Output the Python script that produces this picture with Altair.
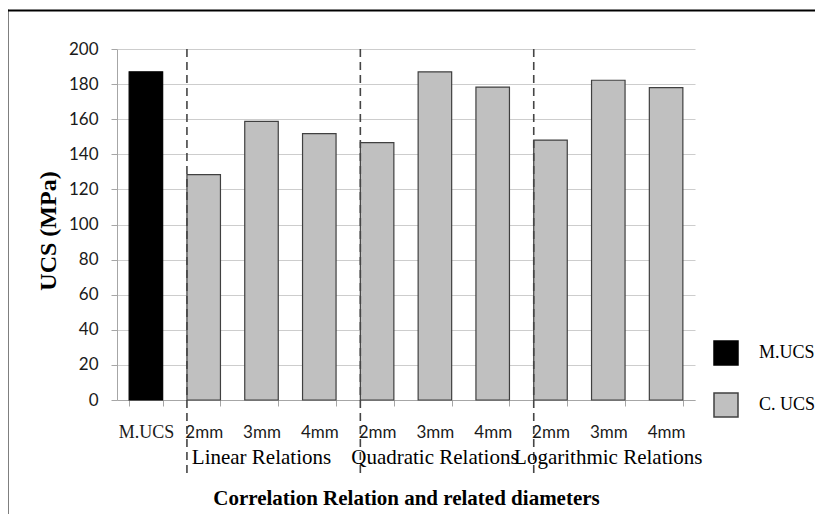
import altair as alt
import pandas as pd

# ---- data ----
keys = ["M.UCS", "Linear|2mm", "Linear|3mm", "Linear|4mm",
        "Quadratic|2mm", "Quadratic|3mm", "Quadratic|4mm",
        "Logarithmic|2mm", "Logarithmic|3mm", "Logarithmic|4mm"]
ucs_values = [187, 128.4, 158.8, 151.8, 146.6, 187, 178.3, 148.1, 182.2, 178]
series = ["M.UCS"] + ["C. UCS"] * 9
legend_names = ["M.UCS", "C. UCS"]
group_names = ["Linear Relations", "Quadratic Relations", "Logarithmic Relations"]
group_centers = ["Linear|3mm", "Quadratic|3mm", "Logarithmic|3mm"]
group_starts = ["Linear|2mm", "Quadratic|2mm", "Logarithmic|2mm"]
y_ticks = [0, 20, 40, 60, 80, 100, 120, 140, 160, 180, 200]

bars_df = pd.DataFrame({"key": keys, "ucs": ucs_values, "series": series})
groups_df = pd.DataFrame({"key": group_centers, "name": group_names})
starts_df = pd.DataFrame({"key": group_starts})
frame_df = pd.DataFrame({"a": [0]})

W, H = 578, 351

x_axis = alt.Axis(
    title="Correlation Relation and related diameters",
    titleFont="Liberation Serif", titleFontSize=21, titleFontWeight="bold",
    titleColor="black", titleBaseline="alphabetic", titleY=104, titleX=W / 2,
    titleAlign="center",
    labelExpr="isString(datum.value) ? (indexof(datum.value, '|') >= 0 ? split(datum.value, '|')[1] : datum.value) : ''",
    labelAngle=0,
    labelFont={"condition": {"test": "datum.value == 'M.UCS'", "value": "Liberation Serif"}, "value": "Lato"},
    labelFontSize={"condition": {"test": "datum.value == 'M.UCS'", "value": 18}, "value": 17},
    labelColor="#1a1a1a", labelBaseline="alphabetic", labelPadding=31,
    tickBand="extent", tickSize=6, tickColor="#a6a6a6",
    domainColor="#a6a6a6", grid=False,
)

x_scale = alt.Scale(domain=keys, paddingInner=0.42, paddingOuter=0.21)


def xenc(**kw):
    return alt.X("key:N", sort=keys, scale=x_scale, axis=x_axis, **kw)


y_enc = alt.Y(
    "ucs:Q",
    scale=alt.Scale(domain=[0, 200], nice=False),
    axis=alt.Axis(
        values=y_ticks, title="UCS (MPa)",
        titleFont="Liberation Serif", titleFontWeight="bold", titleFontSize=24,
        titleColor="black", titleAngle=270, titleX=-62, titleY=H / 2 + 6,
        titleAlign="center", titleBaseline="alphabetic",
        labelFont="Lato", labelFontSize=17, labelColor="#1a1a1a", labelPadding=13,
        tickSize=6, tickColor="#a6a6a6", domainColor="#a6a6a6",
        gridColor="#cdcdcd", gridWidth=1,
    ),
)

bars = alt.Chart(bars_df).mark_bar(strokeWidth=1.2).encode(
    x=xenc(),
    y=y_enc,
    fill=alt.Fill(
        "series:N",
        scale=alt.Scale(domain=legend_names, range=["#000000", "#c0c0c0"]),
        legend=alt.Legend(
            title=None, orient="none", legendX=596, legendY=291,
            symbolType="square", symbolSize=576, symbolStrokeColor="#333333",
            symbolStrokeWidth=1.5, labelFont="Liberation Serif", labelFontSize=18,
            labelColor="black", labelOffset=20, rowPadding=22, padding=0,
        ),
    ),
    stroke=alt.Stroke(
        "series:N",
        scale=alt.Scale(domain=legend_names, range=["#000000", "#404040"]),
        legend=None,
    ),
)

rules = alt.Chart(starts_df).mark_rule(
    strokeDash=[8, 5], color="#454545", strokeWidth=1.6
).encode(
    x=xenc(bandPosition=0),
    y=alt.value(0),
    y2=alt.value(425),
)

group_text = alt.Chart(groups_df).mark_text(
    font="Liberation Serif", fontSize=21, baseline="alphabetic", align="center",
    color="black",
).encode(
    x=xenc(),
    y=alt.value(415),
    text="name:N",
)

# outer frame: only the left and top edges are visible in the reference
frame_top = alt.Chart(frame_df).mark_rule(color="black", strokeWidth=2).encode(
    x=alt.value(-109.5), x2=alt.value(702), y=alt.value(-38.5),
)
frame_left = alt.Chart(frame_df).mark_rule(color="black", strokeWidth=2).encode(
    x=alt.value(-109.5), y=alt.value(-39.5), y2=alt.value(470),
)

chart = alt.layer(bars, rules, group_text, frame_top, frame_left).properties(
    width=W, height=H,
    autosize=alt.AutoSizeParams(type="none"),
    padding={"left": 109, "top": 41, "right": 120, "bottom": 114},
).configure_view(strokeWidth=0)

chart.save("out.html", embed_options={"renderer": "svg", "actions": False})
